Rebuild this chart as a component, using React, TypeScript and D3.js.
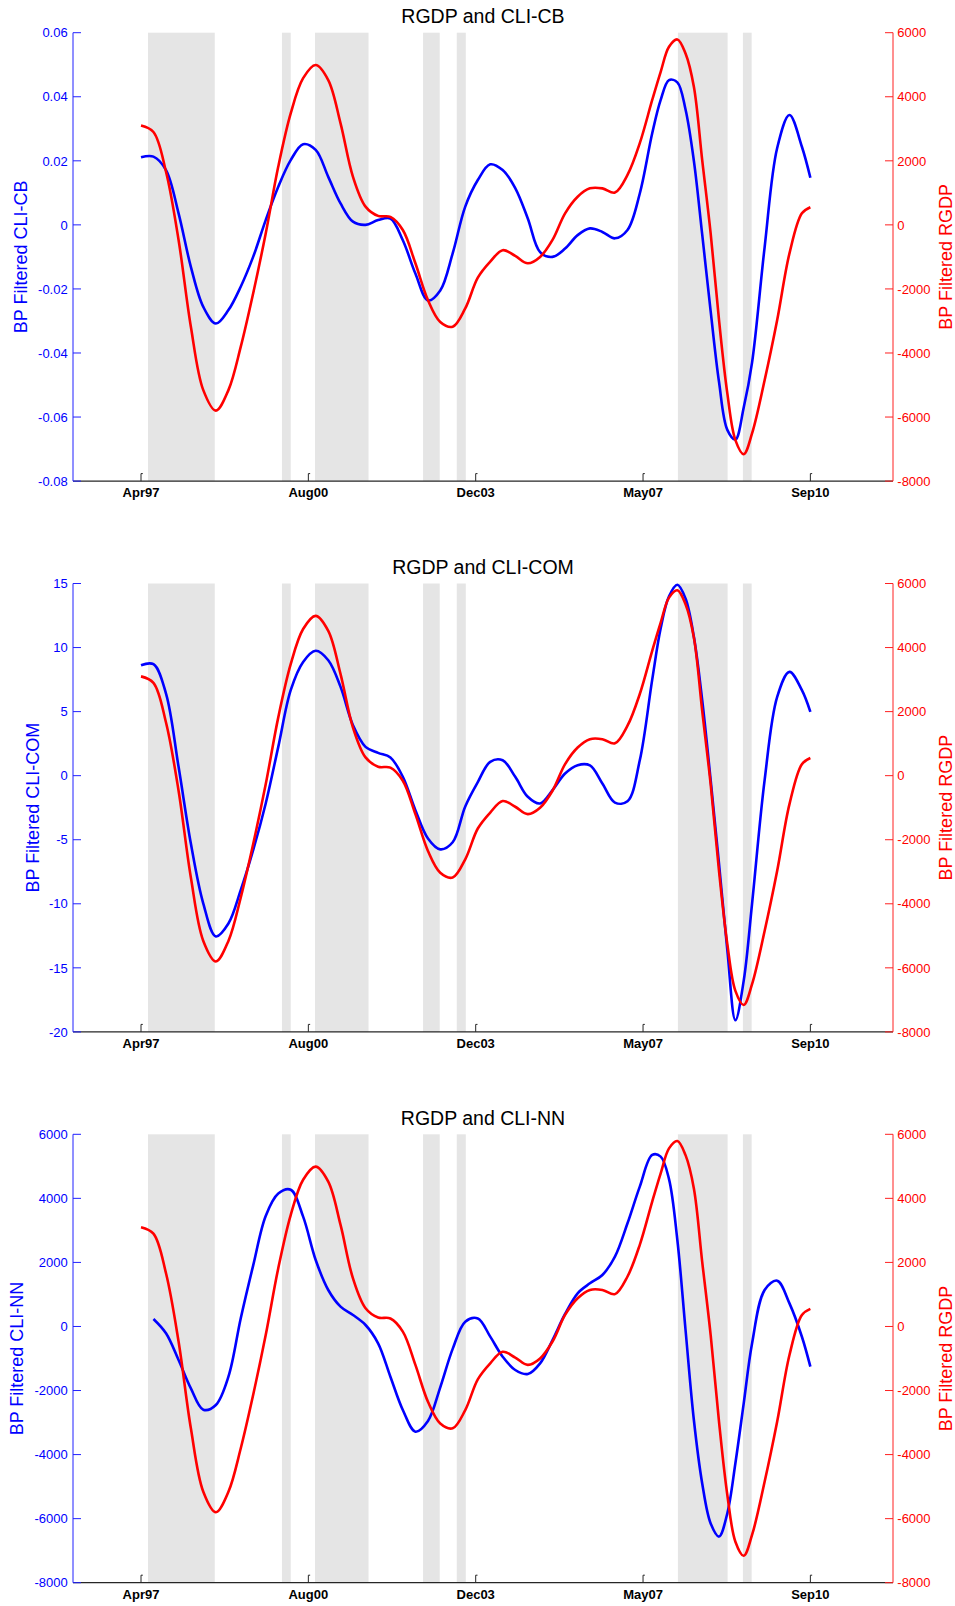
import React from 'react';
import * as d3 from 'd3';

// sample dates (mid-month), quarterly with a denser stretch around 2008-09
const dates = [
  '1997-04', '1997-07', '1997-10', '1998-01', '1998-04', '1998-07', '1998-10', '1999-01', '1999-04', '1999-07',
  '1999-10', '2000-01', '2000-04', '2000-07', '2000-10', '2001-01', '2001-04', '2001-07', '2001-10', '2002-01',
  '2002-04', '2002-07', '2002-10', '2003-01', '2003-04', '2003-07', '2003-10', '2004-01', '2004-04', '2004-07',
  '2004-10', '2005-01', '2005-04', '2005-07', '2005-10', '2006-01', '2006-04', '2006-07', '2006-10', '2007-01',
  '2007-04', '2007-07', '2007-09', '2007-11', '2008-01', '2008-03', '2008-05', '2008-07', '2008-09', '2008-11',
  '2009-01', '2009-03', '2009-05', '2009-07', '2009-10', '2010-01', '2010-04', '2010-07', '2010-09',
];

const rgdp = [
  3100, 2900, 1660, -470, -3180, -5160, -5800, -5160, -3810, -2140,
  -270, 1820, 3480, 4580, 4990, 4520, 3170, 1500, 570, 280,
  250, -160, -1200, -2350, -3030, -3180, -2610, -1650, -1150, -790,
  -970, -1200, -1000, -470, 360, 880, 1140, 1140, 1010, 1560,
  2550, 3900, 4780, 5560, 5790, 5350, 4310, 2020, -270, -2970,
  -5260, -6720, -7160, -6510, -4850, -2970, -890, 360, 550,
];

const cliCB = [
  0.0211, 0.0213, 0.0171, 0.0036, -0.0131, -0.0256, -0.0308, -0.0266, -0.0193, -0.01,
  0.0015, 0.0119, 0.0202, 0.0252, 0.0234, 0.015, 0.0067, 0.001, 0.0, 0.0015,
  0.002, -0.0048, -0.0152, -0.0236, -0.0205, -0.0089, 0.0057, 0.014, 0.0189, 0.0171,
  0.0115, 0.002, -0.0085, -0.01, -0.0074, -0.0032, -0.0011, -0.0022, -0.0042, -0.0016,
  0.0098, 0.0286, 0.039, 0.0452, 0.0445, 0.036, 0.02, -0.003, -0.027, -0.049,
  -0.064, -0.067, -0.057, -0.043, -0.007, 0.024, 0.0343, 0.0244, 0.0147,
];

const cliCOM = [
  8.62, 8.7, 6.41, 0.69, -5.3, -9.98, -12.55, -11.54, -8.94, -5.82,
  -2.17, 2.25, 6.67, 8.88, 9.75, 9.01, 6.93, 3.94, 2.25, 1.78,
  1.42, -0.09, -2.69, -4.9, -5.75, -5.2, -2.4, -0.5, 1.08, 1.2,
  -0.09, -1.65, -2.17, -1.13, 0.17, 0.82, 0.8, -0.61, -2.1, -2.0,
  1.2, 7.5, 11.5, 14.0, 14.9, 13.83, 10.84, 5.89, -0.35, -6.86,
  -13.62, -19.09, -16.0, -10.0, -0.35, 6.15, 8.1, 6.67, 4.98,
];

const cliNN = [
  null, 233, -214, -1047, -1932, -2600, -2450, -1568, 250, 1900,
  3450, 4150, 4270, 3429, 2076, 1139, 619, 358, 46, -526,
  -1568, -2608, -3285, -2950, -1900, -700, 150, 250, -318, -943,
  -1359, -1484, -1151, -422, 390, 1035, 1347, 1607, 2180, 3221,
  4366, 5355, 5303, 4600, 2700, -110, -2920, -4900, -6150, -6560,
  -5830, -4270, -2400, -530, 1140, 1430, 720, -320, -1255,
];

// shaded periods
const recessionStart = ['1997-06-05', '2000-02-11', '2000-10-10', '2002-12-10', '2003-08-14', '2008-01-19', '2009-05-09'];
const recessionEnd = ['1998-10-07', '2000-04-15', '2001-11-06', '2003-04-11', '2003-10-19', '2009-01-17', '2009-07-12'];

const xLimits = ['1995-12-04', '2012-05-12'];
const xTickFirst = '1997-04-15';
const xTickLast = '2010-09-15';
const xTickLabels = ['Apr97', 'Aug00', 'Dec03', 'May07', 'Sep10'];

const cbTicks = [-0.08, -0.06, -0.04, -0.02, 0, 0.02, 0.04, 0.06];
const comTicks = [-20, -15, -10, -5, 0, 5, 10, 15];
const nnTicks = [-8000, -6000, -4000, -2000, 0, 2000, 4000, 6000];
const rgdpTicks = [-8000, -6000, -4000, -2000, 0, 2000, 4000, 6000];

const titles = ['RGDP and CLI-CB', 'RGDP and CLI-COM', 'RGDP and CLI-NN'];
const leftLabels = ['BP Filtered CLI-CB', 'BP Filtered CLI-COM', 'BP Filtered CLI-NN'];
const rightLabel = 'BP Filtered RGDP';

const parseDay = d3.timeParse('%Y-%m-%d');
const FONT = '"Liberation Sans", Arial, Helvetica, sans-serif';

const App = () => {
  const W = 955;
  const H = 1606;
  const left = 73;
  const right = 893;
  const firstTop = 32.7;
  const panelGap = 550.8;
  const plotH = 448.4;
  const tickLen = 8;

  const x = d3.scaleTime().domain(xLimits.map((d) => parseDay(d) as Date)).range([left, right]);
  const xs = dates.map((d) => parseDay(d + '-15') as Date);
  const t0 = +(parseDay(xTickFirst) as Date);
  const t1 = +(parseDay(xTickLast) as Date);
  const tickDates = xTickLabels.map((_, i) => new Date(t0 + ((t1 - t0) * i) / (xTickLabels.length - 1)));

  const panels = [
    { values: cliCB, ticks: cbTicks, fmt: (v: number) => (v === 0 ? '0' : v.toFixed(2)), labelX: 27.3 },
    { values: cliCOM, ticks: comTicks, fmt: (v: number) => String(v), labelX: 39 },
    { values: cliNN, ticks: nnTicks, fmt: (v: number) => String(v), labelX: 23.3 },
  ];

  return (
    <svg width={W} height={H} style={{ position: 'absolute', left: 0, top: 0, background: '#fff' }} fontFamily={FONT}>
      {panels.map((p, pi) => {
        const top = firstTop + pi * panelGap;
        const bottom = top + plotH;
        const yL = d3.scaleLinear().domain([p.ticks[0], p.ticks[p.ticks.length - 1]]).range([bottom, top]);
        const yR = d3.scaleLinear().domain([rgdpTicks[0], rgdpTicks[rgdpTicks.length - 1]]).range([bottom, top]);

        const blueLine = d3
          .line<number | null>()
          .defined((v) => v != null)
          .x((_, i) => x(xs[i]))
          .y((v) => yL(v as number))
          .curve(d3.curveCatmullRom.alpha(0.5));
        const redLine = d3
          .line<number>()
          .x((_, i) => x(xs[i]))
          .y((v) => yR(v))
          .curve(d3.curveCatmullRom.alpha(0.5));

        const midY = (top + bottom) / 2;

        return (
          <g key={pi}>
            {/* shaded periods */}
            {recessionStart.map((s, i) => {
              const x0 = x(parseDay(s) as Date);
              const x1 = x(parseDay(recessionEnd[i]) as Date);
              return <rect key={i} x={x0} y={top} width={x1 - x0} height={plotH} fill="#e5e5e5" />;
            })}

            <path d={blueLine(p.values as (number | null)[]) || ''} fill="none" stroke="#0000ff" strokeWidth={2.6} />
            <path d={redLine(rgdp) || ''} fill="none" stroke="#ff0000" strokeWidth={2.6} />

            {/* x axis */}
            <line x1={left} x2={right} y1={bottom} y2={bottom} stroke="#262626" strokeWidth={1.3} />
            {tickDates.map((d, i) => {
              const tx = x(d);
              return (
                <g key={i}>
                  <path d={`M${tx},${bottom}V${bottom - 7.5}h1.8`} fill="none" stroke="#262626" strokeWidth={1} />
                  <text x={tx} y={bottom + 16} textAnchor="middle" fontSize={13} fontWeight="bold" fill="#000">
                    {xTickLabels[i]}
                  </text>
                </g>
              );
            })}

            {/* left axis */}
            <line x1={left} x2={left} y1={top} y2={bottom} stroke="#2020ff" strokeWidth={1} />
            {p.ticks.map((v, i) => (
              <g key={i}>
                <line x1={left} x2={left + tickLen} y1={yL(v)} y2={yL(v)} stroke="#2020ff" strokeWidth={1} />
                <text x={left - 5.3} y={yL(v) + 4.7} textAnchor="end" fontSize={13} fill="#0000ff">
                  {p.fmt(v)}
                </text>
              </g>
            ))}
            <text
              transform={`translate(${p.labelX},${midY}) rotate(-90)`}
              textAnchor="middle"
              fontSize={18}
              fill="#0000ff"
            >
              {leftLabels[pi]}
            </text>

            {/* right axis */}
            <line x1={right} x2={right} y1={top} y2={bottom} stroke="#ff2020" strokeWidth={1} />
            {rgdpTicks.map((v, i) => (
              <g key={i}>
                <line x1={right - tickLen} x2={right} y1={yR(v)} y2={yR(v)} stroke="#ff2020" strokeWidth={1} />
                <text x={right + 4.3} y={yR(v) + 4.7} textAnchor="start" fontSize={13} fill="#ff0000">
                  {String(v)}
                </text>
              </g>
            ))}
            <text
              transform={`translate(952.3,${midY}) rotate(-90)`}
              textAnchor="middle"
              fontSize={18}
              fill="#ff0000"
            >
              {rightLabel}
            </text>

            {/* title */}
            <text x={(left + right) / 2} y={top - 9.4} textAnchor="middle" fontSize={19.5} fill="#000">
              {titles[pi]}
            </text>
          </g>
        );
      })}
    </svg>
  );
};

export default App;
